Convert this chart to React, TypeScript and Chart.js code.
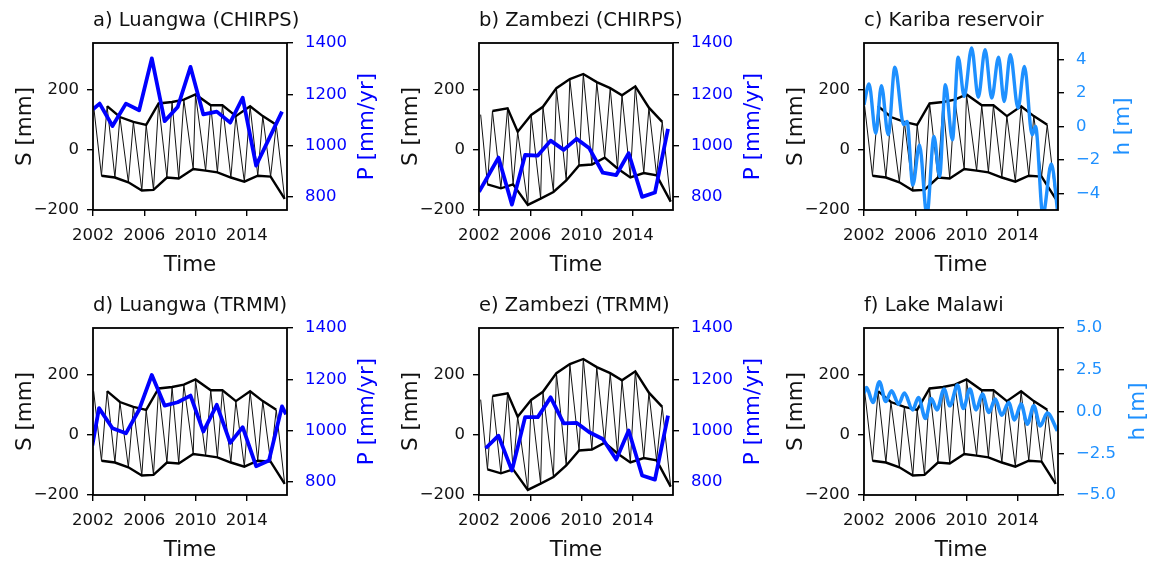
import React, { useEffect, useRef } from 'react';
import { Chart, registerables } from 'chart.js';

Chart.register(...registerables);

// ---------- data ----------
// Luangwa storage: seasonal peaks and troughs (S, mm)
const lwPeakYears = [2002.05, 2003.1, 2004.1, 2005.15, 2006.15, 2007.12, 2008.17, 2009.09, 2010.0, 2011.19, 2012.1, 2013.15, 2014.26, 2015.25, 2016.3];
const lwPeakS = [145, 145, 109, 93, 83, 154, 159, 167, 184, 148, 148, 112, 145, 112, 83];
const lwTroughYears = [2002.66, 2003.71, 2004.76, 2005.81, 2006.72, 2007.77, 2008.69, 2009.82, 2010.79, 2011.71, 2012.76, 2013.81, 2014.86, 2015.86, 2016.96];
const lwTroughS = [-86, -92, -108, -135, -133, -92, -95, -64, -69, -75, -92, -106, -86, -89, -163];

// Zambezi storage
const zbPeakYears = [2002.13, 2003.05, 2004.23, 2005.02, 2006.07, 2006.99, 2008.04, 2009.09, 2010.14, 2011.19, 2012.24, 2013.16, 2014.2, 2015.26, 2016.3];
const zbPeakS = [117, 129, 138, 60, 116, 143, 205, 235, 252, 225, 205, 181, 211, 140, 93];
const zbTroughYears = [2002.66, 2003.71, 2004.66, 2005.81, 2006.81, 2007.81, 2008.81, 2009.81, 2010.81, 2011.81, 2012.81, 2013.81, 2014.86, 2015.86, 2016.96];
const zbTroughS = [-115, -128, -115, -183, -162, -140, -102, -52, -49, -26, -62, -92, -77, -85, -172];

// Annual precipitation (mm/yr)
const pYearsA = [2002.0, 2002.52, 2003.52, 2004.57, 2005.6, 2006.59, 2007.59, 2008.61, 2009.61, 2010.61, 2011.66, 2012.71, 2013.68, 2014.73, 2015.73, 2016.75];
const pLuangwaChirps = [1142, 1164, 1077, 1164, 1138, 1340, 1096, 1151, 1307, 1122, 1133, 1090, 1187, 923, 1027, 1133];
const pZambeziChirps = [821, 866, 954, 771, 964, 962, 1020, 984, 1027, 990, 895, 886, 971, 801, 818, 1066];
const pYearsD = [2001.95, 2002.47, 2003.52, 2004.57, 2005.6, 2006.59, 2007.59, 2008.61, 2009.61, 2010.61, 2011.66, 2012.71, 2013.68, 2014.73, 2015.73, 2016.75, 2017.07];
const pLuangwaTrmm = [943, 1088, 1010, 990, 1082, 1217, 1098, 1111, 1137, 997, 1101, 953, 1014, 862, 884, 1095, 1064];
const pYearsE = [2002.52, 2003.52, 2004.57, 2005.6, 2006.59, 2007.59, 2008.61, 2009.61, 2010.61, 2011.66, 2012.71, 2013.68, 2014.73, 2015.73, 2016.75];
const pZambeziTrmm = [932, 981, 845, 1053, 1053, 1130, 1029, 1031, 994, 968, 888, 1001, 826, 810, 1059];

// Water levels (h, m)
const karibaYears = [2002.0, 2002.39, 2002.92, 2003.36, 2003.89, 2004.41, 2005.1, 2005.36, 2005.81, 2006.33, 2006.91, 2007.46, 2007.9, 2008.35, 2008.9, 2009.35, 2009.82, 2010.4, 2010.92, 2011.45, 2011.97, 2012.5, 2012.94, 2013.42, 2014.02, 2014.52, 2015.12, 2015.39, 2015.96, 2016.62, 2017.14];
const karibaH = [1.3, 2.55, -0.4, 2.45, -0.5, 3.55, 0.1, 0.3, -3.5, -1.1, -5.3, -0.6, -3.0, 2.5, -0.8, 4.15, 1.8, 4.7, 1.75, 4.6, 1.7, 4.15, 1.5, 4.3, 1.1, 3.6, -0.5, 0.0, -5.3, -2.25, -5.3];
const malawiYears = [2002.0, 2002.2, 2002.7, 2003.2, 2003.7, 2004.15, 2004.7, 2005.15, 2005.8, 2006.25, 2006.8, 2007.25, 2007.7, 2008.25, 2008.7, 2009.3, 2009.75, 2010.27, 2010.75, 2011.24, 2011.75, 2012.24, 2012.75, 2013.29, 2013.75, 2014.26, 2014.75, 2015.25, 2015.75, 2016.3, 2017.1];
const malawiH = [1.1, 1.44, 0.54, 1.78, 0.6, 1.24, 0.44, 1.1, 0.1, 0.84, -0.42, 0.78, 0.1, 1.34, 0.34, 1.58, 0.18, 1.34, 0.1, 1.04, -0.06, 0.74, -0.22, 0.54, -0.5, 0.44, -0.76, 0.34, -0.86, -0.1, -1.16];

// Axis ticks
const xTicks = [2002, 2006, 2010, 2014];
const sTicks = [-200, 0, 200];
const pTicks = [800, 1000, 1200, 1400];
const karibaTicks = [-4, -2, 0, 2, 4];
const malawiTicks = [-5, -2.5, 0, 2.5, 5];

// ---------- layout / style ----------
const FONT = '"DejaVu Sans", sans-serif';
const TXT = '#111111';
const BLUE = '#0000ff';
const DODGER = '#1e90ff';
const LW = 93, TH = 43, PW = 194, PH = 167, RW = 100, BH = 72;
const X_MIN = 2002, X_MAX = 2017.14;

const minus = (s: string) => s.replace('-', '\u2212');

function pts(xs: number[], ys: number[]) {
  return xs.map((x, i) => ({ x, y: ys[i] }));
}

function zigzag(py: number[], ps: number[], ty: number[], ts: number[]) {
  const out: { x: number; y: number }[] = [];
  for (let i = 0; i < py.length; i++) {
    out.push({ x: py[i], y: ps[i] });
    if (i < ty.length) out.push({ x: ty[i], y: ts[i] });
  }
  return out;
}

const decor = {
  id: 'decor',
  afterDatasetsDraw(chart: any) {
    const { ctx, chartArea: a } = chart;
    ctx.save();
    ctx.strokeStyle = '#000';
    ctx.lineWidth = 1.8;
    ctx.strokeRect(a.left, a.top, a.right - a.left, a.bottom - a.top);
    ctx.restore();
  },
  afterDraw(chart: any) {
    const o = chart.options.plugins.decor;
    const { ctx, chartArea: a } = chart;
    const cy = (a.top + a.bottom) / 2;
    ctx.save();
    ctx.fillStyle = TXT;
    ctx.font = `19.5px ${FONT}`;
    ctx.textAlign = 'left';
    ctx.textBaseline = 'middle';
    ctx.fillText(o.title, a.left, a.top - 22);
    ctx.font = `21.5px ${FONT}`;
    ctx.textAlign = 'center';
    ctx.fillText('Time', (a.left + a.right) / 2, a.bottom + 55);
    ctx.save();
    ctx.translate(a.left - 68, cy);
    ctx.rotate(-Math.PI / 2);
    ctx.fillText('S [mm]', 0, 0);
    ctx.restore();
    ctx.save();
    ctx.fillStyle = o.rColor;
    ctx.translate(a.right + o.rOff, cy);
    ctx.rotate(-Math.PI / 2);
    ctx.fillText(o.rLabel, 0, 0);
    ctx.restore();
    ctx.restore();
  },
};

type Spec = {
  left: number;
  top: number;
  title: string;
  sData: { py: number[]; ps: number[]; ty: number[]; ts: number[] };
  rx: number[];
  ry: number[];
  rColor: string;
  rWidth: number;
  smooth: boolean;
  rMin: number;
  rMax: number;
  rTicks: number[];
  rFmt: (v: number) => string;
  rLabel: string;
  rOff: number;
};

function makeConfig(s: Spec): any {
  const tickFont = { family: FONT, size: 16.5 };
  const grid = { drawOnChartArea: false, drawTicks: true, tickLength: 6, color: '#000', lineWidth: 1.4 };
  const { py, ps, ty, ts } = s.sData;
  return {
    type: 'line',
    data: {
      datasets: [
        {
          data: pts(s.rx, s.ry),
          yAxisID: 'y1',
          borderColor: s.rColor,
          borderWidth: s.rWidth,
          pointRadius: 0,
          fill: false,
          cubicInterpolationMode: s.smooth ? 'monotone' : 'default',
          tension: 0,
          borderJoinStyle: 'round',
        },
        { data: pts(py.slice(1), ps.slice(1)), yAxisID: 'y', borderColor: '#000', borderWidth: 2.4, pointRadius: 0, fill: false },
        { data: pts(ty, ts), yAxisID: 'y', borderColor: '#000', borderWidth: 2.4, pointRadius: 0, fill: false },
        { data: zigzag(py, ps, ty, ts), yAxisID: 'y', borderColor: '#111', borderWidth: 1.0, pointRadius: 0, fill: false },
      ],
    },
    options: {
      responsive: false,
      maintainAspectRatio: false,
      animation: false,
      devicePixelRatio: 1,
      layout: { padding: { top: TH, left: 0, right: 0, bottom: 0 } },
      plugins: {
        legend: { display: false },
        tooltip: { enabled: false },
        title: { display: false },
        decor: { title: s.title, rLabel: s.rLabel, rColor: s.rColor, rOff: s.rOff },
      },
      scales: {
        x: {
          type: 'linear',
          position: 'bottom',
          min: X_MIN,
          max: X_MAX,
          afterBuildTicks: (sc: any) => { sc.ticks = xTicks.map((v) => ({ value: v })); },
          afterFit: (sc: any) => { sc.height = BH; },
          grid,
          border: { display: false },
          ticks: { font: tickFont, color: TXT, padding: 10, maxRotation: 0, autoSkip: false, callback: (v: number) => String(v) },
        },
        y: {
          type: 'linear',
          position: 'left',
          min: -200,
          max: 355,
          afterBuildTicks: (sc: any) => { sc.ticks = sTicks.map((v) => ({ value: v })); },
          afterFit: (sc: any) => { sc.width = LW; },
          grid,
          border: { display: false },
          ticks: { font: tickFont, color: TXT, padding: 8, autoSkip: false, callback: (v: number) => minus(String(v)) },
        },
        y1: {
          type: 'linear',
          position: 'right',
          min: s.rMin,
          max: s.rMax,
          afterBuildTicks: (sc: any) => { sc.ticks = s.rTicks.map((v) => ({ value: v })); },
          afterFit: (sc: any) => { sc.width = RW; },
          grid,
          border: { display: false },
          ticks: { font: tickFont, color: s.rColor, padding: 12, autoSkip: false, callback: (v: number) => s.rFmt(v) },
        },
      },
    },
    plugins: [decor],
  };
}

const luangwa = { py: lwPeakYears, ps: lwPeakS, ty: lwTroughYears, ts: lwTroughS };
const zambezi = { py: zbPeakYears, ps: zbPeakS, ty: zbTroughYears, ts: zbTroughS };
const pFmt = (v: number) => String(v);
const hFmt = (v: number) => minus(String(v));
const h1Fmt = (v: number) => minus(v.toFixed(1));

const COLS = [93, 479, 864];
const ROWS = [43, 328];

const specs: Spec[] = [
  { left: COLS[0], top: ROWS[0], title: 'a) Luangwa (CHIRPS)', sData: luangwa, rx: pYearsA, ry: pLuangwaChirps, rColor: BLUE, rWidth: 3.8, smooth: false, rMin: 750, rMax: 1400, rTicks: pTicks, rFmt: pFmt, rLabel: 'P [mm/yr]', rOff: 80 },
  { left: COLS[1], top: ROWS[0], title: 'b) Zambezi (CHIRPS)', sData: zambezi, rx: pYearsA, ry: pZambeziChirps, rColor: BLUE, rWidth: 3.8, smooth: false, rMin: 750, rMax: 1400, rTicks: pTicks, rFmt: pFmt, rLabel: 'P [mm/yr]', rOff: 80 },
  { left: COLS[2], top: ROWS[0], title: 'c) Kariba reservoir', sData: luangwa, rx: karibaYears, ry: karibaH, rColor: DODGER, rWidth: 3.4, smooth: true, rMin: -5, rMax: 5, rTicks: karibaTicks, rFmt: hFmt, rLabel: 'h [m]', rOff: 65 },
  { left: COLS[0], top: ROWS[1], title: 'd) Luangwa (TRMM)', sData: luangwa, rx: pYearsD, ry: pLuangwaTrmm, rColor: BLUE, rWidth: 3.8, smooth: false, rMin: 750, rMax: 1400, rTicks: pTicks, rFmt: pFmt, rLabel: 'P [mm/yr]', rOff: 80 },
  { left: COLS[1], top: ROWS[1], title: 'e) Zambezi (TRMM)', sData: zambezi, rx: pYearsE, ry: pZambeziTrmm, rColor: BLUE, rWidth: 3.8, smooth: false, rMin: 750, rMax: 1400, rTicks: pTicks, rFmt: pFmt, rLabel: 'P [mm/yr]', rOff: 80 },
  { left: COLS[2], top: ROWS[1], title: 'f) Lake Malawi', sData: luangwa, rx: malawiYears, ry: malawiH, rColor: DODGER, rWidth: 3.6, smooth: true, rMin: -5, rMax: 5, rTicks: malawiTicks, rFmt: h1Fmt, rLabel: 'h [m]', rOff: 80 },
];

function Panel({ spec }: { spec: Spec }) {
  const ref = useRef<HTMLCanvasElement>(null);
  useEffect(() => {
    const chart = new Chart(ref.current as HTMLCanvasElement, makeConfig(spec));
    return () => chart.destroy();
  }, []);
  const w = LW + PW + RW;
  const h = TH + PH + BH;
  return (
    <canvas
      ref={ref}
      width={w}
      height={h}
      style={{ position: 'absolute', left: spec.left - LW, top: spec.top - TH, width: w, height: h }}
    />
  );
}

export default function App() {
  return (
    <div style={{ position: 'absolute', left: 0, top: 0, width: 1150, height: 562, overflow: 'hidden', background: '#fff' }}>
      {specs.map((s, i) => (
        <Panel key={i} spec={s} />
      ))}
    </div>
  );
}
